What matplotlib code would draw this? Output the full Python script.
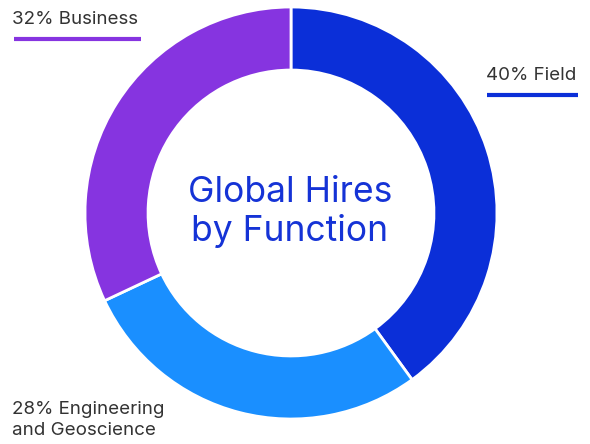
import matplotlib
matplotlib.use("Agg")
import matplotlib.pyplot as plt
from matplotlib.lines import Line2D

categories = ["Field", "Engineering\nand Geoscience", "Business"]
values = [40, 28, 32]
colors = ["#0B2FD8", "#1A8FFF", "#8634E0"]
title = "Global Hires\nby Function"

plt.rcParams['font.family'] = ['Inter', 'DejaVu Sans']

fig = plt.figure(figsize=(5.9, 4.44), dpi=100)
ax = fig.add_axes([85/590, 1 - 419/444, 412/590, 412/444])
ax.pie(values, colors=colors, startangle=90, counterclock=False,
       radius=1.0, wedgeprops=dict(width=0.306, edgecolor="white", linewidth=2))
ax.set_xlim(-1, 1)
ax.set_ylim(-1, 1)
ax.set_aspect("equal")
ax.axis("off")
fig.text(290/590, 1 - 212/444, title, ha="center", va="center", fontsize=25.5,
         color="#1533D6", linespacing=1.2)

def lab(x, y, s, **kw):
    fig.text(x / 590, 1 - y / 444, s, fontsize=13.5, color="#333333", **kw)

lab(12, 20, f"{values[2]}% {categories[2]}", va="center", ha="left")
lab(486, 76, f"{values[0]}% {categories[0]}", va="center", ha="left")
lab(12, 420, f"{values[1]}% {categories[1]}", va="center", ha="left",
    linespacing=1.26)

fig.add_artist(Line2D([14/590, 141/590], [1 - 39.5/444, 1 - 39.5/444],
                      color=colors[2], linewidth=3.0, solid_capstyle="butt",
                      transform=fig.transFigure))
fig.add_artist(Line2D([487/590, 578/590], [1 - 95/444, 1 - 95/444],
                      color=colors[0], linewidth=3.0, solid_capstyle="butt",
                      transform=fig.transFigure))

fig.savefig("out.png", dpi=100)
